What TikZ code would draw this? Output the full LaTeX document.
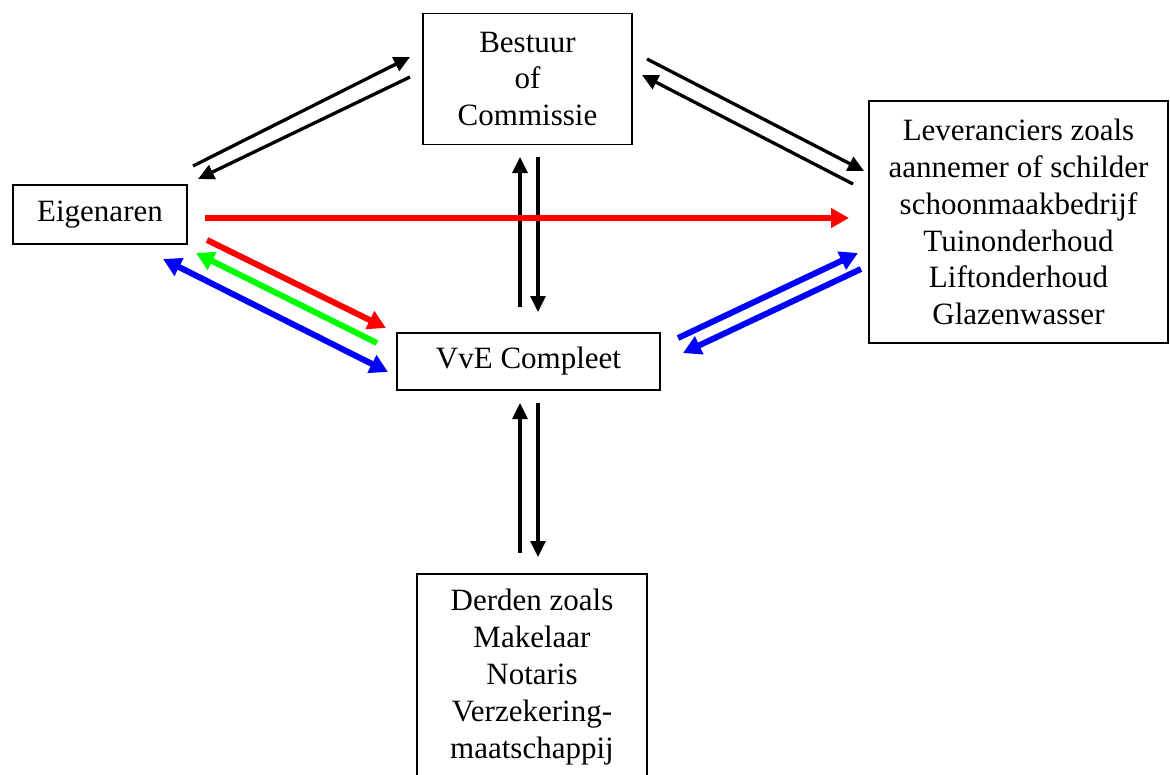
\documentclass[tikz,border=0pt]{standalone}
\usepackage{fontspec}
\setmainfont{Liberation Serif}
\usetikzlibrary{arrows.meta}
\begin{document}
\begin{tikzpicture}[x=1bp,y=-1bp,
  box/.style={draw=black,line width=1.3bp,rectangle,inner sep=0pt,align=center,
    font=\fontsize{31bp}{36.8bp}\selectfont},
  blk/.style={line width=3.3bp,-{Triangle[length=16bp,width=15bp]}},
  col/.style={line width=6bp,-{Triangle[length=18bp,width=19bp]}}]
\useasboundingbox (0,0) rectangle (1170,775);
\node[box,minimum width=209bp,minimum height=131bp] (best) at (527.5,79) {Bestuur\\of\\Commissie};
\node[box,minimum width=299bp,minimum height=242bp] (lev) at (1018.5,222) {Leveranciers zoals\\aannemer of schilder\\schoonmaakbedrijf\\Tuinonderhoud\\Liftonderhoud\\Glazenwasser};
\node[box,minimum width=174bp,minimum height=59bp] (eig) at (100,214.5) {Eigenaren};
\node[box,minimum width=263bp,minimum height=57bp] (vve) at (528.5,361.5) {VvE Compleet};
\node[box,minimum width=230bp,minimum height=206bp] (der) at (532,677) {Derden zoals\\Makelaar\\Notaris\\Verzekering-\\maatschappij};
% endpoints
\coordinate (eb1) at (193,166); \coordinate (eb2) at (410,57);
\coordinate (be1) at (410,77);  \coordinate (be2) at (198,179);
\coordinate (bl1) at (647,59);  \coordinate (bl2) at (864,171);
\coordinate (lb1) at (853,184); \coordinate (lb2) at (642,75);
\coordinate (el1) at (205,218); \coordinate (el2) at (849,218);
\coordinate (ev1) at (207,240); \coordinate (ev2) at (386,328);
\coordinate (ve1) at (377,343); \coordinate (ve2) at (196,253);
\coordinate (bb1) at (163,259); \coordinate (bb2) at (388,372);
\coordinate (vl1) at (678,338); \coordinate (vl2) at (858,253);
\coordinate (lv1) at (861,269); \coordinate (lv2) at (683,353);
\coordinate (vb1) at (520,307); \coordinate (vb2) at (520,157);
\coordinate (bv1) at (538,157); \coordinate (bv2) at (538,312);
\coordinate (dv1) at (520,553); \coordinate (dv2) at (520,403);
\coordinate (vd1) at (538,403); \coordinate (vd2) at (538,557);
% arrows
\draw[blk] (eb1) -- (eb2);
\draw[blk] (be1) -- (be2);
\draw[blk] (bl1) -- (bl2);
\draw[blk] (lb1) -- (lb2);
\draw[blk] (vb1) -- (vb2);
\draw[blk] (bv1) -- (bv2);
\draw[blk] (dv1) -- (dv2);
\draw[blk] (vd1) -- (vd2);
\draw[col,red] (el1) -- (el2);
\draw[col,red] (ev1) -- (ev2);
\draw[col,green] (ve1) -- (ve2);
\draw[col,blue,{Triangle[length=18bp,width=19bp]}-{Triangle[length=18bp,width=19bp]}] (bb1) -- (bb2);
\draw[col,blue] (vl1) -- (vl2);
\draw[col,blue] (lv1) -- (lv2);
\end{tikzpicture}
\end{document}
